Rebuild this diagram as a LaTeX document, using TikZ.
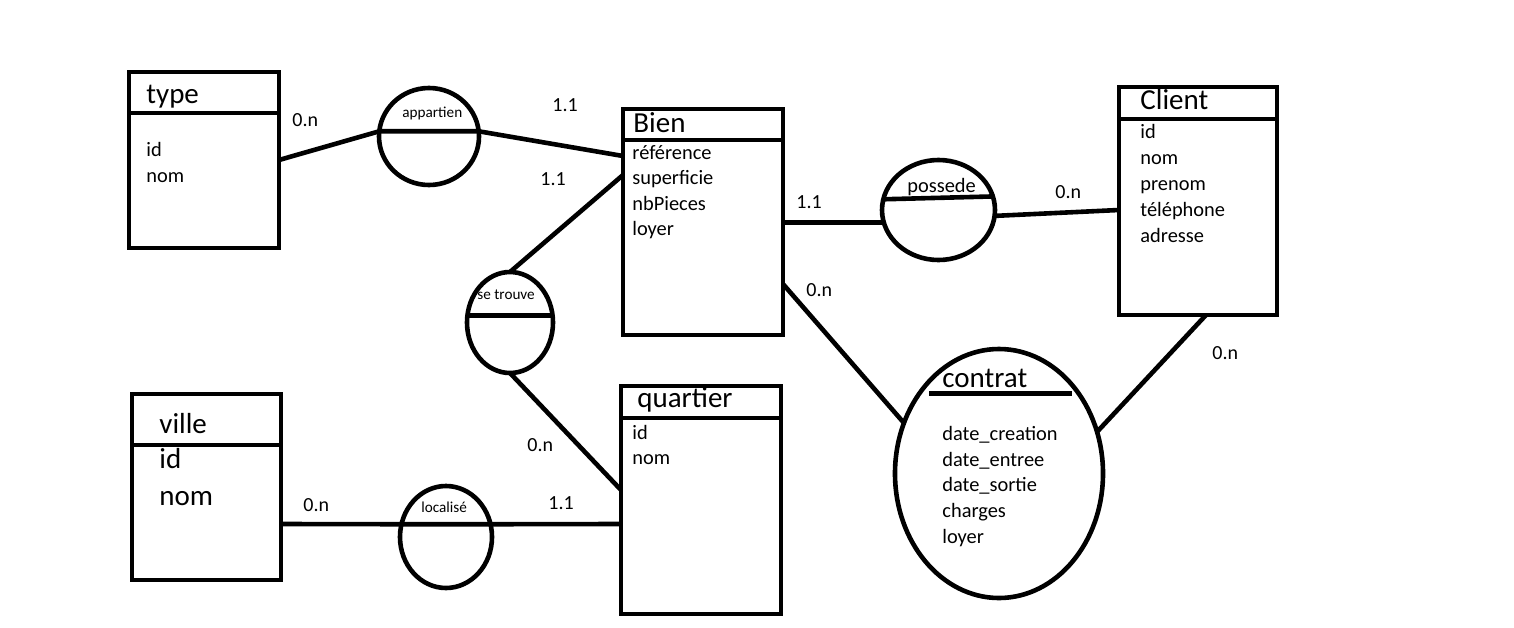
\documentclass[tikz,border=0pt]{standalone}
\usepackage{fontspec}
\setmainfont{Carlito}
\usetikzlibrary{shapes.geometric,calc}
\tikzset{
  ent/.style={draw,line width=2.3pt,outer sep=0pt,inner sep=0pt},
  asso/.style={draw,ellipse,line width=2.3pt,outer sep=0pt,inner sep=0pt},
  lnk/.style={line width=2.3pt,line join=round},
  ttl/.style={anchor=base west,inner sep=0pt,font=\fontsize{14.5}{16}\selectfont},
  attr/.style={anchor=base west,inner sep=0pt,font=\fontsize{10.2}{12}\selectfont},
  card/.style={anchor=base west,inner sep=0pt,font=\fontsize{10}{12}\selectfont},
  albl/.style={anchor=base west,inner sep=0pt,font=\fontsize{7.6}{8}\selectfont},
}

\begin{document}
\begin{tikzpicture}[x=0.5pt,y=-0.5pt]
 \useasboundingbox (0,0) rectangle (1514,627);
 % entities
 \node[ent,minimum width=75pt,minimum height=88pt] (type) at (204,160) {};
 \node[ent,minimum width=80pt,minimum height=113pt] (bien) at (703,222) {};
 \node[ent,minimum width=79pt,minimum height=114pt] (client) at (1198,201) {};
 \node[ent,minimum width=80pt,minimum height=114pt] (quartier) at (701,500) {};
 \node[ent,minimum width=74.5pt,minimum height=93pt] (ville) at (206.5,487) {};
 \foreach \e/\d in {type/41,bien/31,client/32,quartier/32,ville/51}
   \draw[lnk] ($(\e.north west)+(0,\d)$) -- ($(\e.north east)+(0,\d)$);
 % associations
 \node[asso,minimum width=50pt,minimum height=48.5pt] (appartien) at (429,136.5) {};
 \node[asso,minimum width=43pt,minimum height=50.5pt] (setrouve) at (510,322.5) {};
 \node[asso,minimum width=46pt,minimum height=51pt] (localise) at (446,537) {};
 \node[asso,minimum width=56.5pt,minimum height=50pt] (possede) at (938.5,210) {};
 \node[asso,minimum width=104pt,minimum height=124.5pt] (contrat) at (999,473.5) {};
 % titles and fields
 \node[ttl] (typeT) at (146,103) {type};
 \foreach \t [count=\i] in {id,nom} \node[attr] (typeA\i) at (146,130+26*\i) {\t};
 \node[ttl] (bienT) at (633,132) {Bien};
 \foreach \t [count=\i] in {référence,superficie,nbPieces,loyer} \node[attr] (bienA\i) at (632,134.5+25.2*\i) {\t};
 \node[ttl] (clientT) at (1140,109) {Client};
 \foreach \t [count=\i] in {id,nom,prenom,téléphone,adresse} \node[attr] (clientA\i) at (1140,112+26*\i) {\t};
 \node[ttl] (quartierT) at (637,407) {quartier};
 \foreach \t [count=\i] in {id,nom} \node[attr] (quartierA\i) at (632,414+25*\i) {\t};
 \node[ttl] (villeT) at (159,433) {ville};
 \foreach \t [count=\i] in {id,nom} \node[ttl] (villeA\i) at (159,431+37*\i) {\t};
 \node[ttl] (contratT) at (942,387) {contrat};
 \foreach \t [count=\i] in {date\_creation,date\_entree,date\_sortie,charges,loyer} \node[attr] (contratA\i) at (942,414.4+25.8*\i) {\t};
 \node[albl] (appartienL) at (402,117) {appartien};
 \node[albl] (setrouveL) at (477,299) {se trouve};
 \node[albl] (localiseL) at (421,512) {localisé};
 \node[attr] (possedeL) at (907,192) {possede};
 % cardinalities
 \node[card] (c1) at (292,126) {0.n};
 \node[card] (c2) at (552,111) {1.1};
 \node[card] (c3) at (540,185) {1.1};
 \node[card] (c4) at (796,208) {1.1};
 \node[card] (c5) at (1055,198) {0.n};
 \node[card] (c6) at (806,296) {0.n};
 \node[card] (c7) at (1212,359) {0.n};
 \node[card] (c8) at (527,451) {0.n};
 \node[card] (c9) at (303,511) {0.n};
 \node[card] (c10) at (548,509) {1.1};
 % links
 \draw[lnk] (type.east) -- (appartien.174) -- (appartien.6) -- ($(bien.north west)+(0,47)$);
 \draw[lnk] ($(bien.north west)+(0,66)$) -- (setrouve.north);
 \draw[lnk] (setrouve.171) -- (setrouve.9);
 \draw[lnk] (setrouve.south) -- ($(quartier.north west)+(0,104)$);
 \draw[lnk] ($(ville.north east)+(0,130)$) -- (localise.164) -- (localise.16) -- ($(quartier.north west)+(0,138)$);
 \draw[lnk] (bien.east |- possede.193) -- (possede.193);
 \draw[lnk] (possede.169) -- (possede.14);
 \draw[lnk] (possede.-6) -- ($(client.west)+(0,9)$);
 \draw[lnk] ($(bien.north east)+(0,175)$) -- (contrat.152);
 \draw[lnk] ($(client.south)+(8,0)$) -- (contrat.23);
 \draw[lnk] ($(contrat.center)+(-70,-80)$) -- ++(143,0);
\end{tikzpicture}
\end{document}
